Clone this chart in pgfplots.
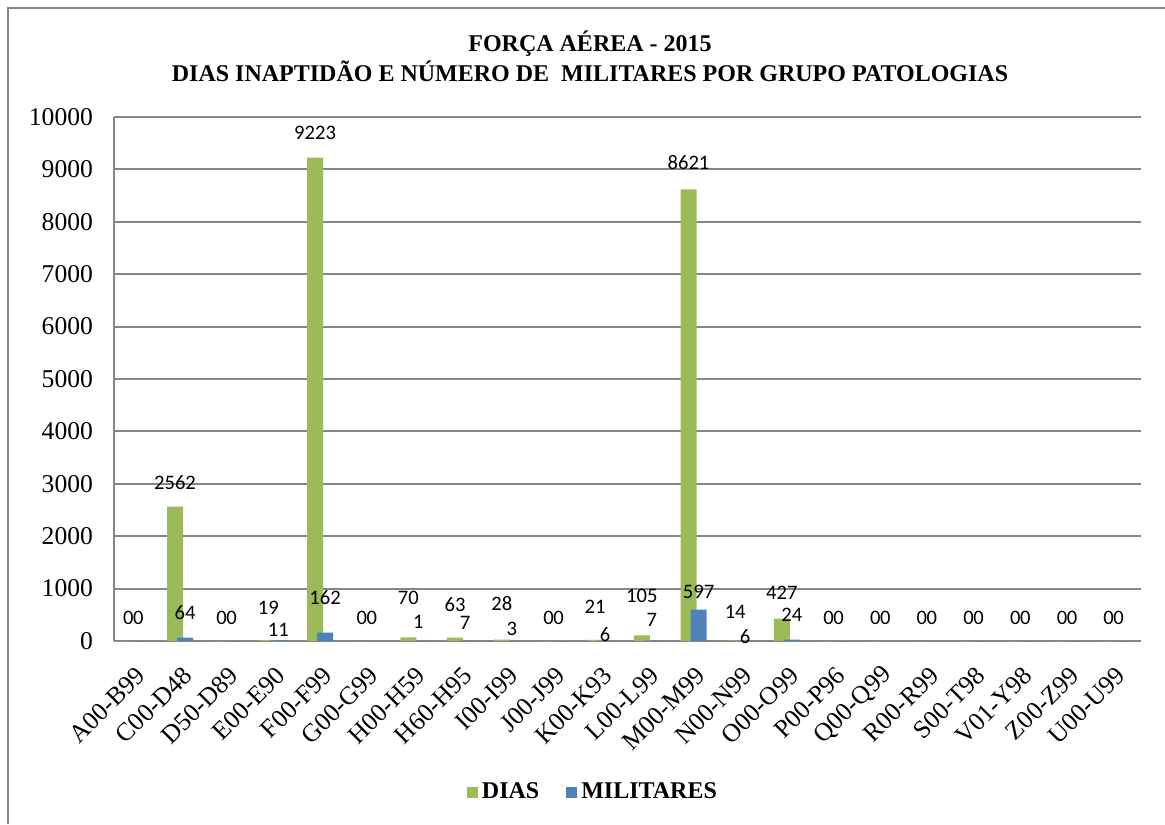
\documentclass[border=0pt]{standalone}
\usepackage{pgfplots}
\pgfplotsset{compat=1.18}
\usepackage{pgfplotstable}
\usepackage{fontspec}
\setmainfont{Liberation Serif}
\newfontfamily\calib{Carlito}
\definecolor{dgreen}{HTML}{9BBB59}
\definecolor{dblue}{HTML}{4F81BD}
\definecolor{gridc}{HTML}{868686}

\pgfplotstableread{
x dias mil dyd dym
0 0 0 11.75 11.75
1 2562 64 12 12.3
2 0 0 11.75 11.75
3 19 11 16 5.2
4 9223 162 12.3 17.3
5 0 0 11.75 11.75
6 70 1 19.5 9.5
7 63 7 16.4 8.8
8 28 3 18 6
9 0 0 11.75 11.75
10 21 6 16.5 2.9
11 105 7 20 10.3
12 8621 597 13.5 8.8
13 14 6 14 1.9
14 427 24 12.8 12.3
15 0 0 11.75 11.75
16 0 0 11.75 11.75
17 0 0 11.75 11.75
18 0 0 11.75 11.75
19 0 0 11.75 11.75
20 0 0 11.75 11.75
21 0 0 11.75 11.75
}\data

\begin{document}
\begin{tikzpicture}[x=1pt,y=1pt]
\useasboundingbox (0,0) rectangle (582.5,412);
\draw[gridc, line width=0.8pt] (4,0) -- (4,408) -- (582.5,408);
\node[font=\bfseries\fontsize{12}{14}\selectfont] at (295,390.25) {FORÇA AÉREA - 2015};
\node[font=\bfseries\fontsize{12}{14}\selectfont] at (295,376.25) {DIAS INAPTIDÃO E NÚMERO DE\ \ MILITARES POR GRUPO PATOLOGIAS};
\begin{axis}[
  at={(57pt,91.5pt)}, anchor=south west,
  scale only axis, width=513.5pt, height=262pt,
  xmin=-0.5, xmax=21.5, ymin=0, ymax=10000,
  ytick={0,1000,...,10000},
  xtick={0,...,21},
  xticklabels={A00-B99,C00-D48,D50-D89,E00-E90,F00-F99,G00-G99,H00-H59,H60-H95,I00-I99,J00-J99,K00-K93,L00-L99,M00-M99,N00-N99,O00-O99,P00-P96,Q00-Q99,R00-R99,S00-T98,V01-Y98,Z00-Z99,U00-U99},
  scaled y ticks=false,
  /pgf/number format/assume math mode=true,
  /pgf/number format/1000 sep={},
  major tick length=0pt,
  ymajorgrids, grid style={gridc, line width=1pt},
  axis x line*=bottom, axis y line*=left,
  axis line style={gridc, line width=1pt},
  yticklabel style={font=\fontsize{12.8}{14}\selectfont, xshift=-7pt},
  xticklabel style={font=\fontsize{12.8}{14}\selectfont, inner sep=0pt, xshift=1.8pt, yshift=-15pt, rotate=45, anchor=east},
  ybar, bar width=8pt,
  legend style={at={(0.4673,-0.289)}, anchor=center, draw=none, legend columns=2,
    font=\bfseries\fontsize{12}{14}\selectfont,
    /tikz/every even column/.append style={column sep=11.5pt}},
  legend image code/.code={\fill[#1] (0pt,-2.75pt) rectangle (5.5pt,2.75pt);},
  nodes near coords,
  nodes near coords style={font=\calib\fontsize{10.3}{12}\selectfont, anchor=center, text=black, yshift=\dy},
]
\addplot[fill=dgreen, draw=none, bar shift=-4.5pt,
  visualization depends on={\thisrow{dyd} \as \dy}]
  table[x=x, y=dias] {\data};
\addlegendentry{DIAS}
\addplot[fill=dblue, draw=none, bar shift=0.5pt,
  visualization depends on={\thisrow{dym} \as \dy}]
  table[x=x, y=mil] {\data};
\addlegendentry{MILITARES}
\end{axis}
\end{tikzpicture}
\end{document}
